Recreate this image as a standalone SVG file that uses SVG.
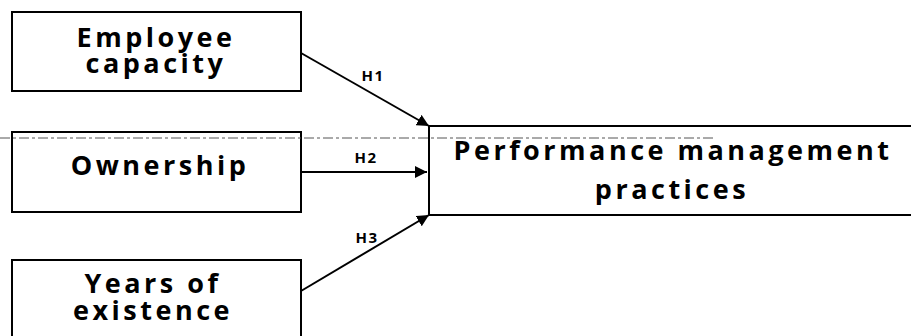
<svg xmlns="http://www.w3.org/2000/svg" width="911" height="336" viewBox="0 0 911 336">
<style>
.box{fill:#fff;stroke:#000;stroke-width:2}
.t{font-family:"Open Sans","DejaVu Sans",sans-serif;font-weight:bold;font-size:27px;letter-spacing:3.5px;text-anchor:middle;fill:#000}
.h{font-family:"Open Sans","DejaVu Sans",sans-serif;font-weight:bold;font-size:15px;letter-spacing:1.5px;text-anchor:middle;fill:#000}
.c{stroke:#000;stroke-width:2;fill:none;marker-end:url(#ah)}
</style>
<defs>
<marker id="ah" viewBox="0 0 10 10" refX="10" refY="5" markerWidth="6" markerHeight="6" markerUnits="strokeWidth" orient="auto">
<path d="M0,0 L10,5 L0,10 z" fill="#000"/>
</marker>
</defs>
<g id="employee-capacity">
<rect class="box" x="12" y="12" width="289" height="79"/>
<text class="t" x="156" y="47">Employee</text>
<text class="t" x="156" y="73">capacity</text>
</g>
<g id="ownership">
<rect class="box" x="12" y="132" width="289" height="80"/>
<text class="t" x="160" y="175">Ownership</text>
</g>
<g id="years-of-existence">
<rect class="box" x="12" y="260" width="289" height="90"/>
<text class="t" x="153" y="293">Years of</text>
<text class="t" x="153" y="320">existence</text>
</g>
<g id="performance-management">
<rect class="box" x="429" y="126" width="490" height="89"/>
<text class="t" x="673" y="160">Performance management</text>
<text class="t" x="672" y="199">practices</text>
</g>
<line x1="0" y1="138" x2="715" y2="138" stroke="#555" stroke-width="1" stroke-dasharray="10 3 3 3"/>
<g id="connectors">
<line class="c" x1="301" y1="53" x2="429" y2="126"/>
<line class="c" x1="301" y1="172" x2="427" y2="172"/>
<line class="c" x1="301" y1="291" x2="429" y2="215"/>
<text class="h" x="373" y="81">H1</text>
<text class="h" x="366" y="163">H2</text>
<text class="h" x="367" y="243">H3</text>
</g>
</svg>
